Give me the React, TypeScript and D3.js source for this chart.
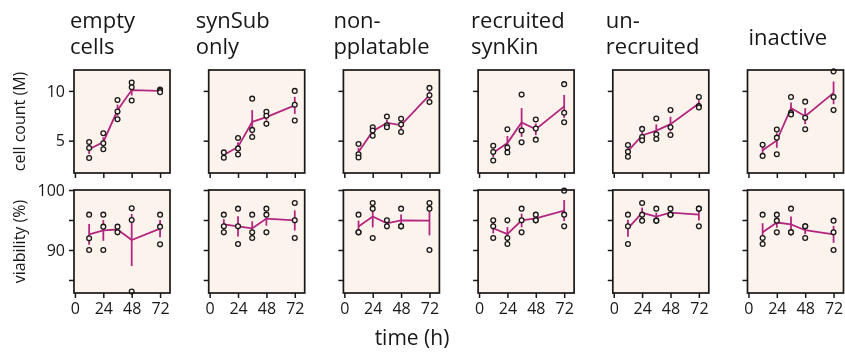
import React, { useEffect, useRef } from 'react';
import * as d3 from 'd3';

// sampling times (h) and axis ticks
const times = [12, 24, 36, 48, 72];
const timeTicks = [0, 24, 48, 72];
const countTicks = [5, 10];
const viabTicks = [85, 90, 95, 100];
const viabLabels = [90, 100];

const titles = [
  ['empty', 'cells'],
  ['synSub', 'only'],
  ['non-', 'pplatable'],
  ['recruited', 'synKin'],
  ['un-', 'recruited'],
  ['inactive'],
];

// cell count (M), replicates per time point
const countEmpty = [[4.87, 4.26, 3.26], [5.74, 4.73, 4.13], [9.09, 7.92, 7.15], [10.84, 10.37, 9.03], [10.13, 10.0, 9.87]];
const countSynSub = [[3.82, 3.28], [5.27, 4.22, 3.61], [9.22, 6.08, 5.37], [7.9, 7.5, 6.69], [10.0, 8.61, 7.03]];
const countNonPlatable = [[4.66, 3.64, 3.3], [6.35, 6.01, 5.5], [7.43, 6.55, 6.35], [7.2, 6.62, 5.87], [10.3, 9.56, 8.88]];
const countRecruited = [[4.49, 3.85, 3.0], [6.15, 4.32, 3.82], [9.63, 6.02, 4.83], [7.12, 6.21, 5.1], [10.68, 7.8, 6.85]];
const countUnrecruited = [[4.56, 3.89, 3.38], [6.18, 5.37, 5.03], [7.23, 5.64, 5.17], [8.07, 6.35, 5.57], [9.39, 8.48, 8.34]];
const countInactive = [[4.59, 3.47], [6.11, 5.3, 3.64], [9.39, 7.8, 7.64], [8.92, 7.3, 6.15], [11.96, 9.39, 8.07]];

// viability (%), replicates per time point
const viabEmpty = [[95.89, 91.94, 90.0], [95.89, 93.89, 90.0], [93.89, 92.94], [96.94, 95.0, 83.06], [95.89, 93.89, 90.94]];
const viabSynSub = [[95.89, 93.94, 92.94], [96.89, 93.94, 91.0], [95.89, 92.94, 92.0], [96.89, 95.89, 92.94], [97.83, 94.94, 92.0]];
const viabNonPlatable = [[95.89, 92.94, 92.94], [97.83, 96.89, 92.0], [94.94, 93.94], [96.89, 93.94, 93.94], [97.83, 96.89, 90.0]];
const viabRecruited = [[94.94, 93.94, 92.0], [94.94, 92.0, 91.0], [96.89, 94.94, 92.94], [95.89, 94.94, 94.94], [99.89, 95.89, 93.94]];
const viabUnrecruited = [[95.89, 93.94, 91.0], [97.83, 95.89, 94.89], [96.89, 94.89, 94.89], [96.89, 95.89, 95.89], [96.89, 96.89, 93.94]];
const viabInactive = [[95.89, 92.0, 91.0], [95.89, 94.89, 92.94], [96.89, 92.94, 92.94], [93.94, 93.94, 92.0], [94.89, 92.94, 90.0]];

const counts = [countEmpty, countSynSub, countNonPlatable, countRecruited, countUnrecruited, countInactive];
const viabs = [viabEmpty, viabSynSub, viabNonPlatable, viabRecruited, viabUnrecruited, viabInactive];

const titleOffsets = [-4, -13, -10, -7, -7, 1];

const App = () => {
  const chartRef = useRef(null);

  useEffect(() => {
    const width = 845;
    const height = 352;
    const panelW = 96;
    const panelH = 103;
    const rowTops = [70, 190];
    const lefts = d3.range(6).map((i) => 74 + i * 134.7);
    const ink = '#1a1718';
    const magenta = '#b3267f';
    const bg = '#fcf4ec';
    const font = '"Open Sans", "Noto Sans", sans-serif';

    const svg = d3.select(chartRef.current)
      .append('svg')
      .attr('width', width)
      .attr('height', height)
      .style('position', 'fixed')
      .style('left', 0)
      .style('top', 0)
      .style('font-family', font);

    const x = d3.scaleLinear().domain([-0.8, 80.4]).range([0, panelW]);
    const yCount = d3.scaleLinear().domain([1.75, 12.1]).range([panelH, 0]);
    const yViab = d3.scaleLinear().domain([82.83, 100]).range([panelH, 0]);

    const rows = [
      { y: yCount, data: counts, ticks: countTicks, labels: countTicks },
      { y: yViab, data: viabs, ticks: viabTicks, labels: viabLabels },
    ];

    rows.forEach((row, r) => {
      row.data.forEach((reps, i) => {
        const g = svg.append('g')
          .attr('transform', `translate(${lefts[i]}, ${rowTops[r]})`);

        g.append('rect')
          .attr('width', panelW)
          .attr('height', panelH)
          .attr('fill', bg);

        const stats = reps.map((vals, k) => {
          const m = d3.mean(vals);
          const sem = (d3.deviation(vals) || 0) / Math.sqrt(vals.length);
          return { t: times[k], m, sem };
        });

        g.selectAll('.err')
          .data(stats)
          .enter()
          .append('line')
          .attr('x1', (d) => x(d.t))
          .attr('x2', (d) => x(d.t))
          .attr('y1', (d) => row.y(d.m - d.sem))
          .attr('y2', (d) => row.y(d.m + d.sem))
          .attr('stroke', magenta)
          .attr('stroke-width', 1.8);

        g.append('path')
          .datum(stats)
          .attr('d', d3.line().x((d) => x(d.t)).y((d) => row.y(d.m)))
          .attr('fill', 'none')
          .attr('stroke', magenta)
          .attr('stroke-width', 1.8);

        const pts = reps.flatMap((vals, k) => vals.map((v) => ({ t: times[k], v })));
        g.selectAll('.pt')
          .data(pts)
          .enter()
          .append('circle')
          .attr('cx', (d) => x(d.t))
          .attr('cy', (d) => row.y(d.v))
          .attr('r', 2.4)
          .attr('fill', bg)
          .attr('stroke', ink)
          .attr('stroke-width', 1.3);

        g.append('rect')
          .attr('width', panelW)
          .attr('height', panelH)
          .attr('fill', 'none')
          .attr('stroke', ink)
          .attr('stroke-width', 1.7);

        const yAxis = g.append('g')
          .call(d3.axisLeft(row.y)
            .tickValues(row.ticks)
            .tickSize(5)
            .tickPadding(4)
            .tickFormat((d) => (i === 0 && row.labels.includes(d) ? String(d) : '')));

        const xAxis = g.append('g')
          .attr('transform', `translate(0, ${panelH})`)
          .call(d3.axisBottom(x)
            .tickValues(timeTicks)
            .tickSize(5)
            .tickPadding(5)
            .tickFormat((d) => (r === 1 ? String(d) : '')));

        [yAxis, xAxis].forEach((ax) => {
          ax.select('.domain').remove();
          ax.selectAll('line').attr('stroke', ink).attr('stroke-width', 1.5);
          ax.selectAll('text')
            .attr('fill', ink)
            .attr('font-size', 16)
            .attr('font-family', font);
        });
      });
    });

    // panel titles
    titles.forEach((lines, i) => {
      const t = svg.append('text')
        .attr('x', lefts[i] + titleOffsets[i])
        .attr('y', lines.length === 1 ? 45 : 28)
        .attr('font-size', 22)
        .attr('fill', ink);
      lines.forEach((ln, j) => {
        t.append('tspan')
          .attr('x', lefts[i] + titleOffsets[i])
          .attr('dy', j === 0 ? 0 : 26)
          .text(ln);
      });
    });

    // axis titles
    svg.append('text')
      .attr('transform', `translate(25, ${rowTops[0] + panelH / 2}) rotate(-90)`)
      .attr('text-anchor', 'middle')
      .attr('font-size', 16)
      .attr('fill', ink)
      .text('cell count (M)');

    svg.append('text')
      .attr('transform', `translate(25, ${rowTops[1] + panelH / 2}) rotate(-90)`)
      .attr('text-anchor', 'middle')
      .attr('font-size', 16)
      .attr('fill', ink)
      .text('viability (%)');

    svg.append('text')
      .attr('x', 412)
      .attr('y', 345)
      .attr('text-anchor', 'middle')
      .attr('font-size', 21)
      .attr('fill', ink)
      .text('time (h)');

    return () => {
      d3.select(chartRef.current)
        .selectAll('svg')
        .remove();
    };
  }, []);

  return <div ref={chartRef} />;
};

export default App;
